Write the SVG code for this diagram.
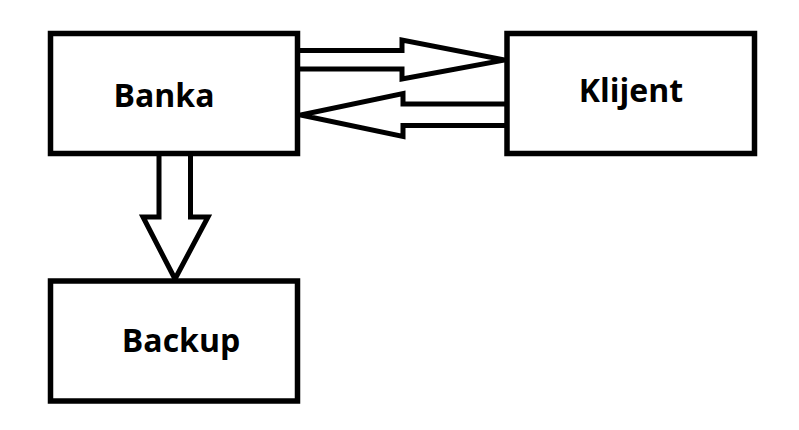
<svg xmlns="http://www.w3.org/2000/svg" width="799" height="430" viewBox="0 0 799 430">
<style>
.box{fill:#fff;stroke:#000;stroke-width:5.5}
.arr{fill:#fff;stroke:#000;stroke-width:5;stroke-linejoin:miter;stroke-miterlimit:20}
.lbl{font-family:"Open Sans","Liberation Sans",sans-serif;font-weight:bold;font-size:32px;fill:#000;text-anchor:middle}
</style>
<rect width="799" height="430" fill="#fff"/>
<g id="connectors">
<path class="arr" d="M297.5,50.5 H402 V40 L505,60 L402,79 V69 H297.5"/>
<path class="arr" d="M507,104 H403 V93.5 L300.5,115 L403,136.5 V125.5 H507"/>
<path class="arr" d="M159,153.5 V217 H143 L175,279 L208,217 H190.5 V153.5"/>
</g>
<g id="banka">
<rect class="box" x="50.5" y="33.5" width="247" height="120"/>
<text class="lbl" x="164" y="107">Banka</text>
</g>
<g id="klijent">
<rect class="box" x="507" y="33.5" width="247.5" height="120"/>
<text class="lbl" x="631" y="102">Klijent</text>
</g>
<g id="backup">
<rect class="box" x="50.5" y="281" width="247" height="120"/>
<text class="lbl" x="181" y="352">Backup</text>
</g>
</svg>
